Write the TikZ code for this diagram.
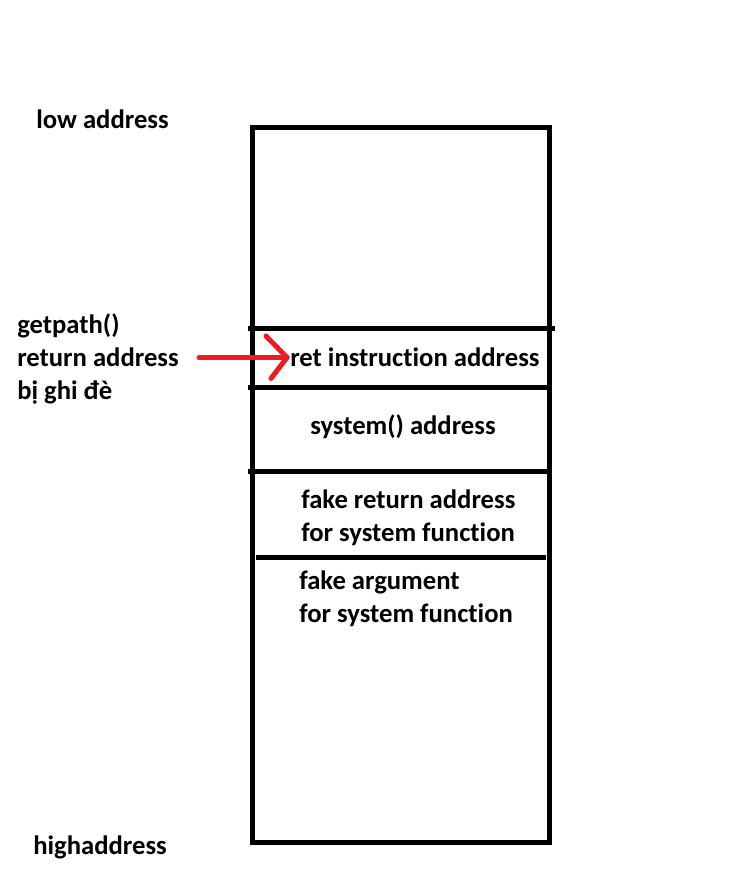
\documentclass[tikz,border=0pt]{standalone}
\usepackage{fontspec}
\setmainfont{Carlito}[Ligatures={NoCommon,NoRare}]
\begin{document}
\begin{tikzpicture}[x=0.75pt,y=-0.75pt,
  lbl/.style={font=\fontsize{20pt}{24.4pt}\selectfont\bfseries, inner sep=0pt, anchor=base west, align=left},
  stackline/.style={line width=3.75pt, black},
  redarrow/.style={line width=3.75pt, draw={rgb,255:red,237;green,28;blue,36}, line cap=round, line join=round}]
\useasboundingbox (0,0) rectangle (747,888);
% stack frame
\draw[stackline] (252.5,127.5) rectangle (549.5,842.5);
\coordinate (l1a) at (248,328);   \coordinate (l1b) at (555,328);
\coordinate (l2a) at (248,387.5); \coordinate (l2b) at (550,387.5);
\coordinate (l3a) at (248,471);   \coordinate (l3b) at (550,471);
\coordinate (l4a) at (256,557.5); \coordinate (l4b) at (546,557.5);
\draw[stackline] (l1a) -- (l1b);
\draw[stackline] (l2a) -- (l2b);
\draw[stackline] (l3a) -- (l3b);
\draw[stackline] (l4a) -- (l4b);
% labels (base = baseline of the last line)
\node[lbl] (low) at (36,129) {low address};
\node[lbl] (high) at (33,854) {highaddress};
\node[lbl] (note) at (17,399) {getpath()\\return address\\bị ghi đè};
\node[lbl] (ret) at (290,366) {ret instruction address};
\node[lbl] (sys) at (310,434) {system() address};
\node[lbl] (fret) at (301,541) {fake return address\\for system function};
\node[lbl] (farg) at (299,622) {fake argument\\for system function};
% arrow
\coordinate (arrstart) at (199,357.5);
\coordinate (tip) at (ret.west |- arrstart);
\coordinate (tipx) at ([xshift=-2.25pt]tip);
\draw[redarrow] (arrstart) -- (tipx);
\draw[redarrow] ([shift={(-21,-21.5)}]tipx) -- (tipx) -- ([shift={(-16,21)}]tipx);
\end{tikzpicture}
\end{document}
